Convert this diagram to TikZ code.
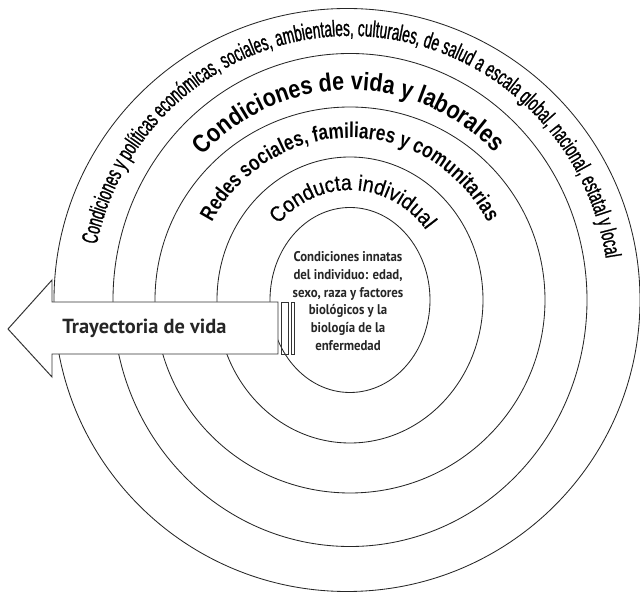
\documentclass[tikz,border=0pt]{standalone}
\usepackage{fontspec}
\setmainfont{PT Sans}
\newfontfamily\innerfont[FakeStretch=0.91]{PT Sans}
\newfontfamily\ringfonta[FakeStretch=0.6,FakeBold=1]{Liberation Sans}
\newfontfamily\ringfontb[FakeStretch=0.85]{Liberation Sans}
\newfontfamily\ringfontc[FakeStretch=0.8]{Liberation Sans}
\newfontfamily\ringfontd[FakeStretch=0.9,FakeBold=0.6]{Liberation Sans}
\usetikzlibrary{decorations.text}
\begin{document}
\begin{tikzpicture}[x=0.025cm,y=0.025cm,ring/.style={draw=black!85,line width=0.6pt},ringtext/.style={decorate,text=black!90},lifearrow/.style={draw=black!80,line width=0.7pt,fill=white},lifebar/.style={draw=black!80,line width=0.7pt},lifelabel/.style={font=\fontsize{14.5}{16}\selectfont\bfseries,text=black!85},innate/.style={font=\innerfont\fontsize{10}{12.66}\selectfont\bfseries,text=black!85,align=center,inner sep=0pt}]
\useasboundingbox (0,0) rectangle (640,593);
\coordinate (c) at (350,293);
\draw[ring] (347,293) ellipse[x radius=293, y radius=291.5];
\draw[ring] (c) ellipse[x radius=237, y radius=246.5];
\draw[ring] (c) ellipse[x radius=195, y radius=193];
\draw[ring] (c) ellipse[x radius=133, y radius=143];
\draw[ring] (c) ellipse[x radius=80, y radius=92.5];
\path[ringtext,decoration={text along path,text align=center,text={|\ringfonta\fontsize{16.2}{18}\selectfont|Condiciones y políticas económicas, sociales, ambientales, culturales, de salud a escala global, nacional, estatal y local}}] (c) ++(169:259 and 264) arc[start angle=169, end angle=8, x radius=259, y radius=264];
\path[ringtext,decoration={text along path,text align=center,text={|\ringfontb\bfseries\fontsize{18}{20}\selectfont|Condiciones de vida y laborales}}] (c) ++(141:203 and 210) arc[start angle=141, end angle=40, x radius=203, y radius=210];
\path[ringtext,decoration={text along path,text align=center,text={|\ringfontc\bfseries\fontsize{15.3}{18}\selectfont|Redes sociales, familiares y comunitarias}}] (c) ++(150:157 and 162) arc[start angle=150, end angle=30, x radius=157, y radius=162];
\path[ringtext,decoration={text along path,text align=center,text={|\ringfontd\fontsize{15.5}{18}\selectfont|Conducta individual}}] (c) ++(136:98.5 and 110) arc[start angle=136, end angle=40, x radius=98.5, y radius=110];
\draw[lifearrow] (8,264) -- (52,313) -- (52,291) -- (278,291) -- (278,239) -- (52,239) -- (52,216) -- cycle;
\draw[lifebar] (281.7,239) rectangle (288.3,291);
\draw[lifebar] (291,239) rectangle (294.3,291);
\node[lifelabel] (tray) at (144.5,265) {Trayectoria de vida};
\node[innate] (innat) at (348,292) {Condiciones innatas\\del individuo: edad,\\sexo, raza y factores\\biológicos y la\\biología de la\\enfermedad};
\end{tikzpicture}
\end{document}
